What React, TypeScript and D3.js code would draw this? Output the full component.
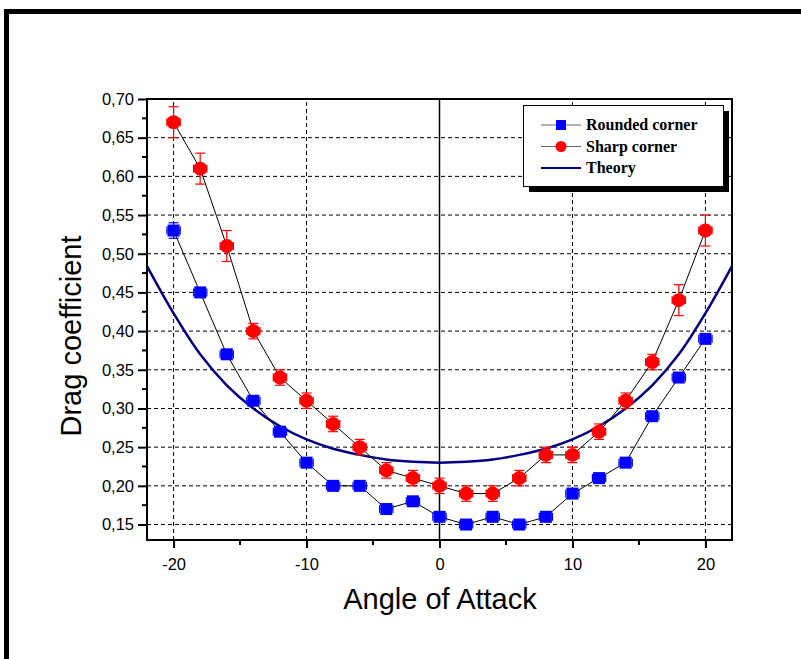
import React, { useEffect, useRef } from 'react';
import * as d3 from 'd3';

// Data
const angles = [-20, -18, -16, -14, -12, -10, -8, -6, -4, -2, 0, 2, 4, 6, 8, 10, 12, 14, 16, 18, 20];
const rounded = [0.53, 0.45, 0.37, 0.31, 0.27, 0.23, 0.20, 0.20, 0.17, 0.18, 0.16, 0.15, 0.16, 0.15, 0.16, 0.19, 0.21, 0.23, 0.29, 0.34, 0.39];
const roundedErr = [0.01, 0.006, 0.006, 0.006, 0.005, 0.005, 0.005, 0.005, 0.005, 0.005, 0.005, 0.005, 0.005, 0.005, 0.005, 0.005, 0.005, 0.005, 0.005, 0.005, 0.006];
const sharp = [0.67, 0.61, 0.51, 0.40, 0.34, 0.31, 0.28, 0.25, 0.22, 0.21, 0.20, 0.19, 0.19, 0.21, 0.24, 0.24, 0.27, 0.31, 0.36, 0.44, 0.53];
const sharpErr = [0.02, 0.02, 0.02, 0.01, 0.01, 0.01, 0.01, 0.01, 0.01, 0.01, 0.01, 0.01, 0.01, 0.01, 0.01, 0.01, 0.01, 0.01, 0.01, 0.02, 0.02];
const angleErr = 0.5;

const theoryAngles = [-22, -20, -18, -16, -14, -12, -10, -8, -6, -4, -2, 0, 2, 4, 6, 8, 10, 12, 14, 16, 18, 20, 22];
const theory = [0.484, 0.423, 0.370, 0.330, 0.300, 0.277, 0.260, 0.248, 0.240, 0.234, 0.231, 0.230, 0.231, 0.234, 0.240, 0.248, 0.260, 0.277, 0.300, 0.330, 0.370, 0.423, 0.484];

const xTicks = [-20, -10, 0, 10, 20];
const xMinor = [-15, -5, 5, 15];
const yTicks = [0.15, 0.2, 0.25, 0.3, 0.35, 0.4, 0.45, 0.5, 0.55, 0.6, 0.65, 0.7];
const yMinor = [0.175, 0.225, 0.275, 0.325, 0.375, 0.425, 0.475, 0.525, 0.575, 0.625, 0.675];

const legendItems = ['Rounded corner', 'Sharp corner', 'Theory'];

const App = () => {
  const svgRef = useRef<SVGSVGElement>(null);

  useEffect(() => {
    const width = 801;
    const height = 659;
    const margin = { top: 99, right: 69, bottom: 119, left: 147 };

    const svg = d3.select(svgRef.current)
      .attr('width', width)
      .attr('height', height);
    svg.selectAll('*').remove();

    svg.append('rect').attr('width', width).attr('height', height).attr('fill', '#fff');

    // outer frame
    svg.append('rect')
      .attr('x', 6.5).attr('y', 11.5)
      .attr('width', 900).attr('height', 900)
      .attr('fill', 'none').attr('stroke', '#000').attr('stroke-width', 5);

    const x = d3.scaleLinear().domain([-22, 22]).range([margin.left, width - margin.right]);
    const y = d3.scaleLinear().domain([0.13, 0.70]).range([height - margin.bottom, margin.top]);
    const fmt = (v: number) => d3.format('.2f')(v).replace('.', ',');

    const x0 = margin.left, x1 = width - margin.right;
    const y0 = height - margin.bottom, y1 = margin.top;

    // grid
    const grid = svg.append('g').attr('stroke', '#000').attr('stroke-width', 1).attr('stroke-dasharray', '4,3');
    grid.selectAll('.hg').data(yTicks.filter(v => v < 0.7)).join('line')
      .attr('x1', x0).attr('x2', x1).attr('y1', d => y(d)).attr('y2', d => y(d));
    grid.selectAll('.vg').data(xTicks.filter(v => v !== 0)).join('line')
      .attr('y1', y0).attr('y2', y1).attr('x1', d => x(d)).attr('x2', d => x(d));

    // zero line
    svg.append('line').attr('x1', x(0)).attr('x2', x(0)).attr('y1', y0).attr('y2', y1)
      .attr('stroke', '#000').attr('stroke-width', 1.5);

    // axes
    const xAxis = svg.append('g').attr('transform', `translate(0,${y0})`)
      .call(d3.axisBottom(x).tickValues(xTicks).tickSize(8).tickSizeOuter(0).tickPadding(10).tickFormat(d => `${d}`));
    xAxis.append('g').selectAll('line').data(xMinor).join('line')
      .attr('x1', d => x(d)).attr('x2', d => x(d)).attr('y1', 0).attr('y2', 5).attr('stroke', '#000').attr('stroke-width', 2);
    const yAxis = svg.append('g').attr('transform', `translate(${x0},0)`)
      .call(d3.axisLeft(y).tickValues(yTicks).tickSize(9).tickSizeOuter(0).tickPadding(4).tickFormat(d => fmt(+d)));
    yAxis.append('g').selectAll('line').data(yMinor).join('line')
      .attr('y1', d => y(d)).attr('y2', d => y(d)).attr('x1', 0).attr('x2', -5).attr('stroke', '#000').attr('stroke-width', 2);

    [xAxis, yAxis].forEach(a => {
      a.select('.domain').remove();
      a.selectAll('.tick line').attr('stroke-width', 2);
      a.selectAll('text').attr('font-family', 'Liberation Sans, Arial, sans-serif').attr('font-size', 16.5).attr('fill', '#000');
    });

    // box
    svg.append('rect').attr('x', x0).attr('y', y1).attr('width', x1 - x0).attr('height', y0 - y1)
      .attr('fill', 'none').attr('stroke', '#000').attr('stroke-width', 2);

    const plot = svg.append('g');
    plot.append('clipPath').attr('id', 'clip').append('rect')
      .attr('x', x0).attr('y', y1).attr('width', x1 - x0).attr('height', y0 - y1);

    // theory curve
    const theoryLine = d3.line<number>().x((_, i) => x(theoryAngles[i])).y(d => y(d)).curve(d3.curveCatmullRom);
    plot.append('path').datum(theory).attr('d', theoryLine).attr('clip-path', 'url(#clip)')
      .attr('fill', 'none').attr('stroke', '#000080').attr('stroke-width', 2.5);

    const seriesLine = d3.line<number>().x((_, i) => x(angles[i])).y(d => y(d));

    const drawSeries = (vals: number[], errs: number[], color: string, shape: 'square' | 'circle') => {
      const g = plot.append('g');
      g.append('path').datum(vals).attr('d', seriesLine).attr('fill', 'none').attr('stroke', '#000').attr('stroke-width', 1);
      const eb = g.append('g').attr('stroke', color).attr('stroke-width', 1.2);
      vals.forEach((v, i) => {
        const cx = x(angles[i]);
        const cy = y(v);
        const top = y(v + errs[i]);
        const bot = y(v - errs[i]);
        eb.append('line').attr('x1', cx).attr('x2', cx).attr('y1', top).attr('y2', bot);
        eb.append('line').attr('x1', cx - 5).attr('x2', cx + 5).attr('y1', top).attr('y2', top);
        eb.append('line').attr('x1', cx - 5).attr('x2', cx + 5).attr('y1', bot).attr('y2', bot);
        const xl = x(angles[i] - angleErr);
        const xr = x(angles[i] + angleErr);
        eb.append('line').attr('x1', xl).attr('x2', xr).attr('y1', cy).attr('y2', cy);
        eb.append('line').attr('x1', xl).attr('x2', xl).attr('y1', cy - 4).attr('y2', cy + 4);
        eb.append('line').attr('x1', xr).attr('x2', xr).attr('y1', cy - 4).attr('y2', cy + 4);
      });
      if (shape === 'square') {
        g.selectAll('rect.m').data(vals).join('rect')
          .attr('x', (_, i) => x(angles[i]) - 6).attr('y', d => y(d) - 6)
          .attr('width', 12).attr('height', 12).attr('fill', color);
      } else {
        g.selectAll('circle.m').data(vals).join('circle')
          .attr('cx', (_, i) => x(angles[i])).attr('cy', d => y(d)).attr('r', 7).attr('fill', color);
      }
    };
    drawSeries(rounded, roundedErr, '#0000ff', 'square');
    drawSeries(sharp, sharpErr, '#ff0000', 'circle');

    // axis titles
    svg.append('text').attr('x', 440).attr('y', 609).attr('text-anchor', 'middle')
      .attr('font-family', 'Liberation Sans, Arial, sans-serif').attr('font-size', 29).text('Angle of Attack');
    svg.append('text').attr('transform', `translate(81,336) rotate(-90)`).attr('text-anchor', 'middle')
      .attr('font-family', 'Liberation Sans, Arial, sans-serif').attr('font-size', 29).text('Drag coefficient');

    // legend
    const lg = svg.append('g').attr('transform', 'translate(523,105)');
    lg.append('rect').attr('x', 6).attr('y', 6).attr('width', 200).attr('height', 81).attr('fill', '#000');
    lg.append('rect').attr('x', 0.5).attr('y', 0.5).attr('width', 200).attr('height', 81)
      .attr('fill', '#fff').attr('stroke', '#000').attr('stroke-width', 1);
    legendItems.forEach((name, i) => {
      const cy = 20 + i * 21.5;
      const row = lg.append('g');
      if (i < 2) {
        row.append('line').attr('x1', 18).attr('x2', 58).attr('y1', cy).attr('y2', cy).attr('stroke', '#666').attr('stroke-width', 1);
        if (i === 0) row.append('rect').attr('x', 33).attr('y', cy - 5).attr('width', 10).attr('height', 10).attr('fill', '#0000ff');
        else row.append('circle').attr('cx', 38).attr('cy', cy).attr('r', 5.5).attr('fill', '#ff0000');
      } else {
        row.append('line').attr('x1', 18).attr('x2', 58).attr('y1', cy).attr('y2', cy).attr('stroke', '#000080').attr('stroke-width', 2);
      }
      row.append('text').attr('x', 63).attr('y', cy + 5).attr('font-family', 'Liberation Serif, Times New Roman, serif')
        .attr('font-weight', 'bold').attr('font-size', 16).text(name);
    });
  }, []);

  return (
    <svg ref={svgRef} style={{ position: 'absolute', left: 0, top: 0 }}></svg>
  );
};

export default App;
